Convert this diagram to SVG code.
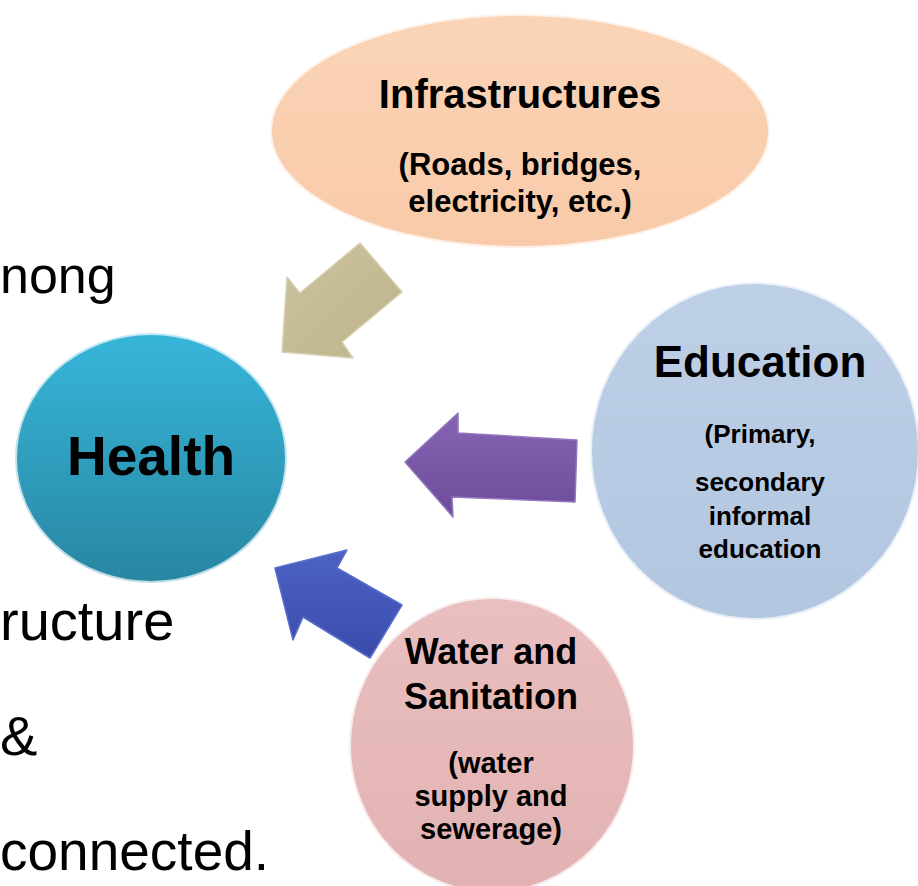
<svg xmlns="http://www.w3.org/2000/svg" width="918" height="886" viewBox="0 0 918 886">
  <defs>
    <linearGradient id="gHealth" x1="0" y1="0" x2="0" y2="1">
      <stop offset="0" stop-color="#37B6DA"/>
      <stop offset="1" stop-color="#2886A2"/>
    </linearGradient>
    <linearGradient id="gInfra" x1="0" y1="0" x2="0" y2="1">
      <stop offset="0" stop-color="#FBD4B7"/>
      <stop offset="1" stop-color="#F8CAA9"/>
    </linearGradient>
    <linearGradient id="gEdu" x1="0" y1="0" x2="0" y2="1">
      <stop offset="0" stop-color="#BDD0E8"/>
      <stop offset="1" stop-color="#B3C6DF"/>
    </linearGradient>
    <linearGradient id="gWater" x1="0" y1="0" x2="0" y2="1">
      <stop offset="0" stop-color="#EABFBF"/>
      <stop offset="1" stop-color="#E2B2B2"/>
    </linearGradient>
    <linearGradient id="gTan" x1="0" y1="0" x2="1" y2="1">
      <stop offset="0" stop-color="#CCC39F"/>
      <stop offset="1" stop-color="#BDB48C"/>
    </linearGradient>
    <linearGradient id="gPurple" x1="0" y1="0" x2="0" y2="1">
      <stop offset="0" stop-color="#8664B4"/>
      <stop offset="1" stop-color="#6C4C9A"/>
    </linearGradient>
    <linearGradient id="gBlue" x1="0" y1="0" x2="0" y2="1">
      <stop offset="0" stop-color="#4E62C6"/>
      <stop offset="1" stop-color="#3A4BAA"/>
    </linearGradient>
  </defs>
  <style>
    .rim { stroke: #FFFFFF; stroke-opacity: 0.7; stroke-width: 4; }
    .lbl { font-family: "Liberation Sans", Arial, sans-serif; font-weight: bold; fill: #000000; text-anchor: middle; }
    .side { font-family: "Liberation Sans", Arial, sans-serif; font-weight: normal; fill: #000000; font-size: 55px; }
    .arrow { stroke-width: 1.5; stroke-linejoin: round; }
  </style>
  <rect width="918" height="886" fill="#FFFFFF"/>

  <text class="side" x="0" y="293" style="font-size:52px">nong</text>
  <text class="side" x="0" y="640" style="font-size:56px">ructure</text>
  <text class="side" x="0" y="755" style="font-size:56px">&amp;</text>
  <text class="side" x="0" y="870">connected.</text>

  <g id="infrastructures">
    <ellipse cx="520" cy="131" rx="250" ry="117" fill="url(#gInfra)" class="rim"/>
    <text class="lbl" x="520" y="108" font-size="40">Infrastructures</text>
    <text class="lbl" x="520" y="175" font-size="31">(Roads, bridges,</text>
    <text class="lbl" x="520" y="212" font-size="31">electricity, etc.)</text>
  </g>

  <g id="education">
    <ellipse cx="755" cy="451" rx="165" ry="169" fill="url(#gEdu)" class="rim"/>
    <text class="lbl" x="760" y="377" font-size="44">Education</text>
    <text class="lbl" x="760" y="443" font-size="26">(Primary,</text>
    <text class="lbl" x="760" y="491" font-size="26">secondary</text>
    <text class="lbl" x="760" y="525" font-size="26">informal</text>
    <text class="lbl" x="760" y="558" font-size="26">education</text>
  </g>

  <g id="water">
    <ellipse cx="492" cy="745" rx="143" ry="148" fill="url(#gWater)" class="rim"/>
    <text class="lbl" x="491" y="664" font-size="36">Water and</text>
    <text class="lbl" x="491" y="709" font-size="36">Sanitation</text>
    <text class="lbl" x="491" y="773" font-size="29">(water</text>
    <text class="lbl" x="491" y="806" font-size="29">supply and</text>
    <text class="lbl" x="491" y="839" font-size="29">sewerage)</text>
  </g>

  <g id="health">
    <ellipse cx="151" cy="458" rx="136" ry="125" fill="url(#gHealth)" class="rim"/>
    <text class="lbl" x="151" y="475" font-size="55">Health</text>
  </g>

  <g id="connectors">
    <polygon class="arrow" points="360,243 402,292 342,342 353,358 282,352 287,277 300,293" fill="url(#gTan)" stroke="#D8D0AE"/>
    <polygon class="arrow" points="405,462 458,413 458,433 577,440 575,502 452,497 453,517" fill="url(#gPurple)" stroke="#9478BF"/>
    <polygon class="arrow" points="275,568 347,550 337,568 402,605 370,658 303,617 293,640" fill="url(#gBlue)" stroke="#5A6DCC"/>
  </g>
</svg>
